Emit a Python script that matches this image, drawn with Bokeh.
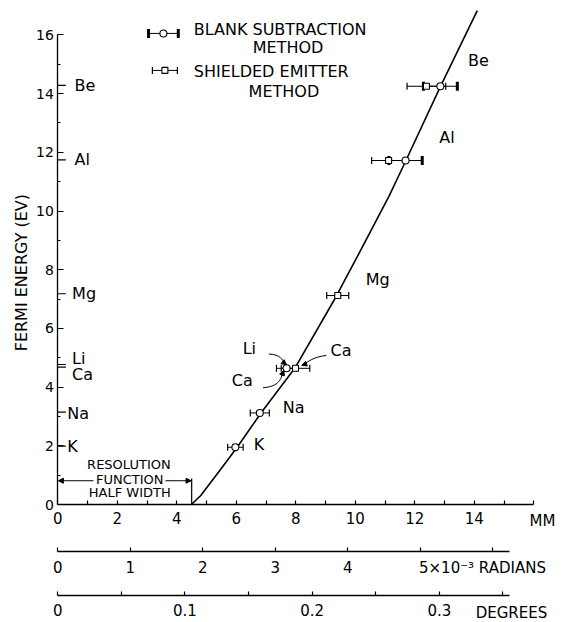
import math
from bokeh.plotting import figure
from bokeh.models import (Range1d, LinearAxis, FixedTicker, Whisker, TeeHead,
                          ColumnDataSource, Arrow, NormalHead)
from bokeh.core.properties import value
from bokeh.embed import file_html
from bokeh.resources import INLINE

FONT = "DejaVu Sans"
NB = "\u00a0"

# ---------------- data ----------------
# blank subtraction method: open circle, heavy end caps
blank_elem = ["Al", "Be"]
blank_mm = [11.69, 12.86]
blank_ev = [11.72, 14.25]
blank_err = [0.56, 0.57]

# shielded emitter method: open square, light end caps
shield_elem = ["Ca", "Mg", "Al", "Be"]
shield_mm = [7.99, 9.41, 11.12, 12.39]
shield_ev = [4.64, 7.12, 11.72, 14.25]
shield_err = [0.48, 0.37, 0.57, 0.65]

# remaining points: open circle, light end caps
other_elem = ["K", "Na", "Li"]
other_mm = [5.97, 6.79, 7.69]
other_ev = [1.95, 3.12, 4.64]
other_err = [0.26, 0.32, 0.34]

# drawn curve
curve_mm = [4.49, 4.80, 5.40, 6.03, 6.81, 7.99, 9.28, 10.20, 11.13, 11.60, 12.86, 14.10]
curve_ev = [0.0, 0.30, 1.10, 1.95, 3.09, 4.68, 6.95, 8.70, 10.50, 11.50, 14.24, 16.83]

# Fermi energies marked on the energy axis
axis_elem = ["Be", "Al", "Mg", "Li", "Ca", "Na", "K"]
axis_ev = [14.28, 11.74, 7.18, 4.77, 4.68, 3.15, 1.99]

resolution_half_width_mm = 4.5

# scales / ticks
mm_labels = [0, 2, 4, 6, 8, 10, 12, 14]
mm_minor = [1, 3, 5, 7, 9, 11, 13, 15, 16]
rad_labels = [0, 1, 2, 3, 4, 5]
rad_minor = [6]
deg_labels = [0, 0.1, 0.2, 0.3]
deg_minor = [0.05, 0.15, 0.25, 0.35]
ev_ticks = [0, 2, 4, 6, 8, 10, 12, 14, 16]
ev_minor = [1, 3, 5, 7, 9, 11, 13, 15]
RAD_PER_MM = 0.4103   # 10^-3 rad per mm
DEG_PER_MM = 0.02339  # degrees per mm
MM_END, RAD_END, DEG_END, EV_END = 16, 6.23, 0.355, 16

# ---------------- layout constants ----------------
X0, X1 = -1.926, 16.965        # the frame covers the whole canvas
Y0, Y1 = -4.02, 17.172
Y_RAD_AXIS = -1.60             # vertical place of the radians scale (in eV units)
Y_DEG_AXIS = -3.10             # vertical place of the degrees scale

p = figure(width=562, height=622, x_range=Range1d(X0, X1), y_range=Range1d(Y0, Y1),
           output_backend="svg", toolbar_location=None,
           x_axis_location=None, y_axis_location=None,
           min_border_left=0, min_border_right=0, min_border_top=0, min_border_bottom=0)
p.outline_line_color = None
p.grid.grid_line_color = None
p.background_fill_color = "white"
p.border_fill_color = "white"
p.extra_x_ranges = {"rad": Range1d(X0 * RAD_PER_MM, X1 * RAD_PER_MM),
                    "deg": Range1d(X0 * DEG_PER_MM, X1 * DEG_PER_MM)}

def style_axis(ax, tick_in, minor_in, standoff, size="15px"):
    ax.axis_line_width = 1.3
    ax.axis_line_color = "black"
    ax.major_tick_in = tick_in
    ax.major_tick_out = 0
    ax.minor_tick_in = minor_in
    ax.minor_tick_out = 0
    ax.major_tick_line_width = 1.2
    ax.minor_tick_line_width = 1.2
    ax.major_label_standoff = standoff
    ax.major_label_text_font = FONT
    ax.major_label_text_font_size = size
    ax.major_label_text_color = "black"

# energy axis
yax = LinearAxis(ticker=FixedTicker(ticks=ev_ticks, minor_ticks=ev_minor), bounds=(0, EV_END),
                 fixed_location=0)
style_axis(yax, 6, 3, 4, "14px")
p.add_layout(yax, "left")

# mm scale
mmax = LinearAxis(ticker=FixedTicker(ticks=mm_labels, minor_ticks=mm_minor),
                  bounds=(0, MM_END), fixed_location=0)
style_axis(mmax, 4, 4, 7)
p.add_layout(mmax, "below")

# radians scale
radax = LinearAxis(x_range_name="rad", ticker=FixedTicker(ticks=rad_labels, minor_ticks=rad_minor),
                   bounds=(0, RAD_END), fixed_location=Y_RAD_AXIS)
style_axis(radax, 4, 4, 8)
radax.major_label_overrides = {5: NB * 11 + "5×10⁻³"}
p.add_layout(radax, "below")

# degrees scale
degax = LinearAxis(x_range_name="deg", ticker=FixedTicker(ticks=deg_labels, minor_ticks=deg_minor),
                   bounds=(0, DEG_END), fixed_location=Y_DEG_AXIS)
style_axis(degax, 4, 4, 9)
degax.major_label_overrides = {0: "0", 0.1: "0.1", 0.2: "0.2", 0.3: "0.3"}
p.add_layout(degax, "below")

def txt(xs, ys, texts, size, align="left", angle=0.0):
    p.text(x=xs, y=ys, text=texts, text_font=value(FONT), text_font_size=value(size),
           text_align=align, text_baseline="middle", text_color="black", angle=angle)

# axis titles
txt([-1.22], [7.9], ["FERMI ENERGY (EV)"], "16px", "center", math.pi / 2)
txt([16.29, 15.28, 15.25], [-0.55, -2.18, -3.71], ["MM", "RADIANS", "DEGREES"], "15px", "center")

# ---------------- curve ----------------
p.line(curve_mm, curve_ev, line_color="black", line_width=1.6)

# ---------------- error bars + points ----------------
def err_source(xs, ys, es):
    return ColumnDataSource(dict(x=xs, y=ys, lo=[a - e for a, e in zip(xs, es)],
                                 hi=[a + e for a, e in zip(xs, es)]))

thin = dict(size=7, line_width=1.2, line_color="black")
thick = dict(size=9, line_width=3, line_color="black")

src_sh = err_source(shield_mm, shield_ev, shield_err)
src_ot = err_source(other_mm, other_ev, other_err)
src_bl = err_source(blank_mm, blank_ev, blank_err)
for src, caps in [(src_sh, thin), (src_ot, thin), (src_bl, thick)]:
    p.add_layout(Whisker(source=src, base="y", lower="lo", upper="hi", dimension="width",
                         line_width=1, line_color="black",
                         lower_head=TeeHead(**caps), upper_head=TeeHead(**caps)))

p.scatter("x", "y", source=src_sh, marker="square", size=6, fill_color="white",
          line_color="black", line_width=1.1)
p.scatter("x", "y", source=src_ot, marker="circle", size=7, fill_color="white",
          line_color="black", line_width=1.1)
p.scatter("x", "y", source=src_bl, marker="circle", size=7, fill_color="white",
          line_color="black", line_width=1.1)

# ---------------- legend (drawn) ----------------
leg_bl = ColumnDataSource(dict(x=[3.55], y=[16.05], lo=[3.05], hi=[4.05]))
leg_sh = ColumnDataSource(dict(x=[3.6], y=[14.79], lo=[3.18], hi=[4.02]))
p.add_layout(Whisker(source=leg_bl, base="y", lower="lo", upper="hi", dimension="width",
                     line_width=1, lower_head=TeeHead(**thick), upper_head=TeeHead(**thick)))
p.add_layout(Whisker(source=leg_sh, base="y", lower="lo", upper="hi", dimension="width",
                     line_width=1, lower_head=TeeHead(**thin), upper_head=TeeHead(**thin)))
p.scatter("x", "y", source=leg_bl, marker="circle", size=7, fill_color="white",
          line_color="black", line_width=1.1)
p.scatter("x", "y", source=leg_sh, marker="square", size=6, fill_color="white",
          line_color="black", line_width=1.1)

txt([4.57, 4.57], [16.2, 14.75], ["BLANK SUBTRACTION", "SHIELDED EMITTER"], "16px")
txt([7.74, 7.6], [15.57, 14.08], ["METHOD", "METHOD"], "16px", "center")

# ---------------- element marks on the energy axis ----------------
p.segment(x0=[0] * len(axis_ev), y0=axis_ev, x1=[0.27] * len(axis_ev), y1=axis_ev,
          line_color="black", line_width=1.2)
lab_x = [0.56, 0.56, 0.48, 0.48, 0.48, 0.32, 0.32]
lab_dy = [0, 0, 0, 0.2, -0.25, -0.05, 0]
txt(lab_x, [e + d for e, d in zip(axis_ev, lab_dy)], axis_elem, "16px")

# ---------------- element names along the curve ----------------
txt([14.14, 13.08, 10.75, 7.93, 6.76, 6.44, 6.2, 9.52],
    [15.14, 12.49, 7.66, 3.31, 2.03, 5.3, 4.22, 5.25],
    ["Be", "Al", "Mg", "Na", "K", "Li", "Ca", "Ca"], "16px", "center")

# pointer arrows for Li / Ca
p.bezier(x0=[7.09, 6.9, 9.03], y0=[5.13, 3.98, 5.08],
         x1=[7.62, 7.55, 8.28], y1=[4.80, 4.5, 4.77],
         cx0=[7.49, 7.45, 8.55], cy0=[5.10, 4.02, 5.02],
         cx1=[7.55, 7.52, 8.4], cy1=[4.95, 4.3, 4.85],
         line_color="black", line_width=1)
for xs, ys, xe, ye in [(7.55, 4.87, 7.69, 4.76), (7.53, 4.4, 7.6, 4.57), (8.33, 4.79, 8.2, 4.74)]:
    p.add_layout(Arrow(x_start=xs, y_start=ys, x_end=xe, y_end=ye, line_width=1,
                       end=NormalHead(size=5, fill_color="black", line_color="black")))

# ---------------- resolution function half width ----------------
hw = resolution_half_width_mm
p.segment(x0=[hw], y0=[0], x1=[hw], y1=[0.89], line_color="black", line_width=1.2)
p.add_layout(Arrow(x_start=1.2, y_start=0.81, x_end=0.02, y_end=0.81, line_width=1,
                   end=NormalHead(size=5, fill_color="black")))
p.add_layout(Arrow(x_start=3.62, y_start=0.81, x_end=hw - 0.02, y_end=0.81, line_width=1,
                   end=NormalHead(size=5, fill_color="black")))
txt([2.39, 2.42, 2.42], [1.36, 0.86, 0.4], ["RESOLUTION", "FUNCTION", "HALF WIDTH"],
    "13px", "center")

open("out.html", "w").write(file_html(p, INLINE))
